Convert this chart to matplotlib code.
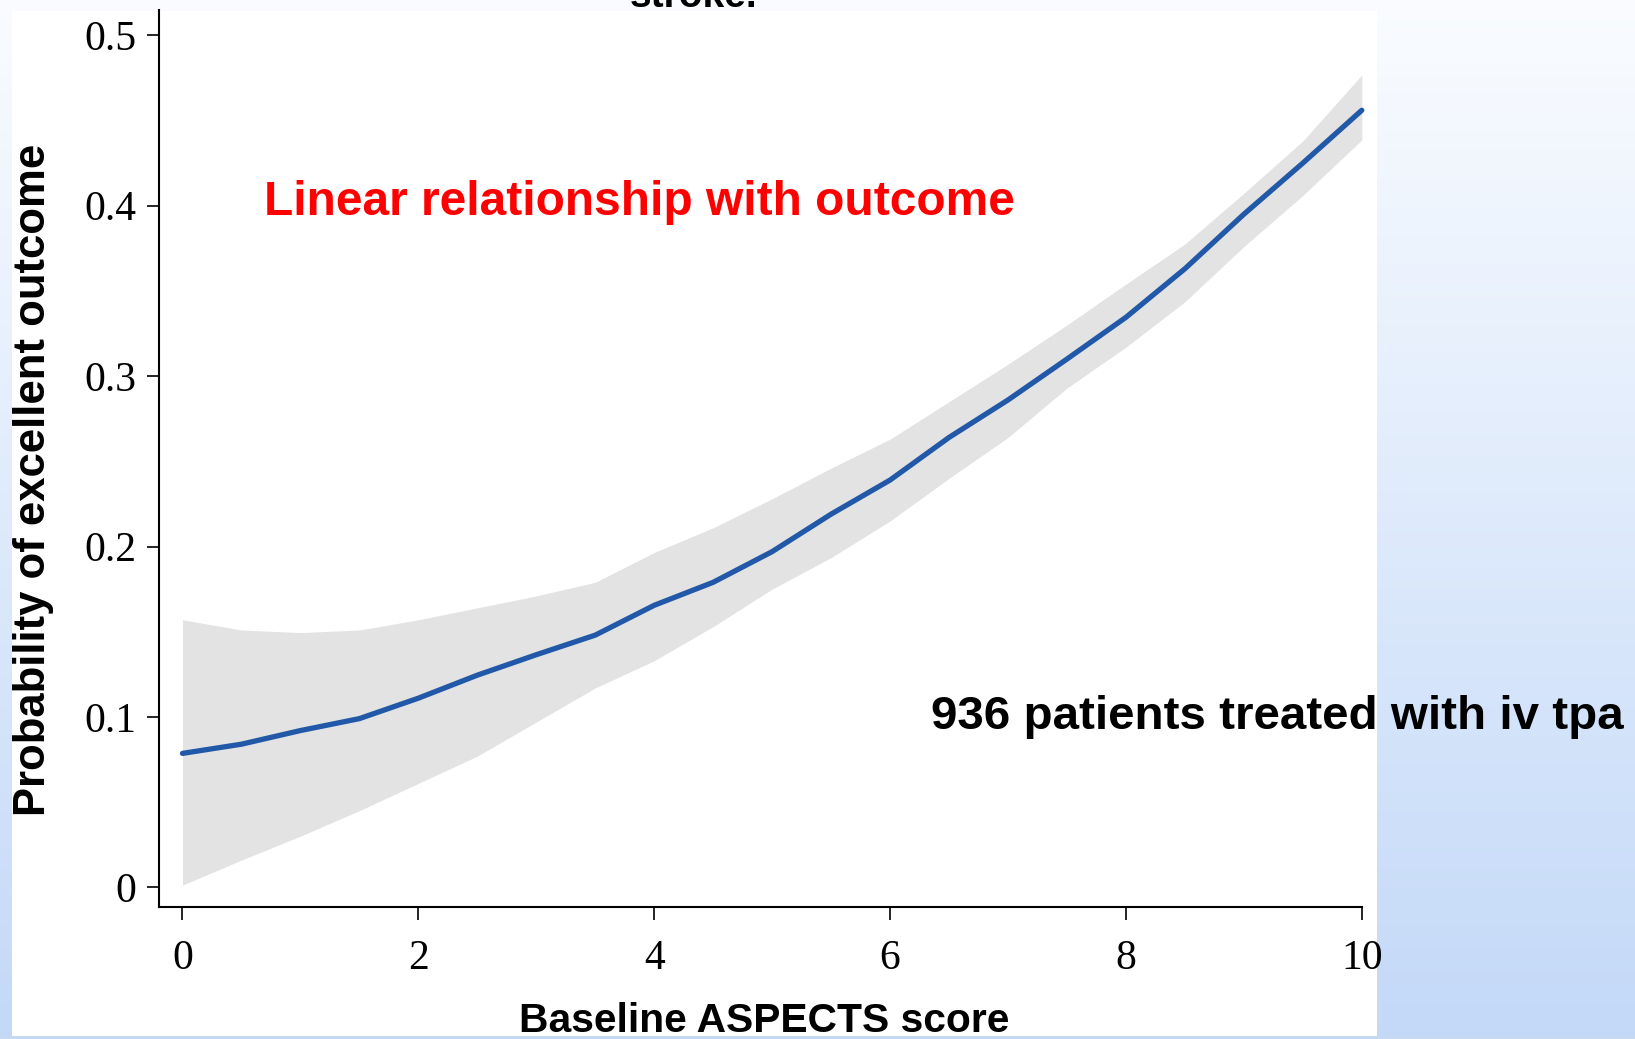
import numpy as np
import matplotlib
matplotlib.use("Agg")
import matplotlib.pyplot as plt
from matplotlib import font_manager
from matplotlib.patches import Rectangle

# Baseline ASPECTS score vs. modelled probability of excellent outcome
aspects = [0.0, 0.5, 1.0, 1.5, 2.0, 2.5, 3.0, 3.5, 4.0, 4.5, 5.0,
           5.5, 6.0, 6.5, 7.0, 7.5, 8.0, 8.5, 9.0, 9.5, 10.0]
prob = [0.0786, 0.084, 0.092, 0.099, 0.111, 0.1245, 0.1365, 0.148, 0.1655, 0.179, 0.197,
        0.219, 0.239, 0.264, 0.286, 0.310, 0.3345, 0.363, 0.395, 0.425, 0.456]
ci_upper = [0.157, 0.151, 0.1495, 0.151, 0.157, 0.164, 0.171, 0.179, 0.1965, 0.211, 0.228,
            0.246, 0.263, 0.285, 0.307, 0.330, 0.354, 0.3775, 0.4073, 0.438, 0.4767]
ci_lower = [0.0013, 0.016, 0.030, 0.045, 0.061, 0.077, 0.097, 0.117, 0.133, 0.153, 0.175,
            0.1935, 0.215, 0.240, 0.264, 0.293, 0.317, 0.3436, 0.376, 0.406, 0.4386]

x_ticks = [0, 2, 4, 6, 8, 10]
y_ticks = [0, 0.1, 0.2, 0.3, 0.4, 0.5]
y_tick_labels = ["0", "0.1", "0.2", "0.3", "0.4", "0.5"]

x_title = "Baseline ASPECTS score"
y_title = "Probability of excellent outcome"
note_red = "Linear relationship with outcome"
note_black = "936 patients treated with iv tpa"
header = "stroke."

W, H = 1635, 1039
fig = plt.figure(figsize=(W / 100, H / 100), dpi=100)

available = {f.name for f in font_manager.fontManager.ttflist}
narrow = "Liberation Sans Narrow" if "Liberation Sans Narrow" in available else "Liberation Sans"
nscale = 1.0 if narrow == "Liberation Sans Narrow" else 0.85

# slide background: soft vertical blue gradient
bg = fig.add_axes([0, 0, 1, 1], zorder=-10)
top_c = np.array([0.980, 0.988, 1.000])
bot_c = np.array([0.765, 0.850, 0.972])
t = np.linspace(0, 1, 256)[:, None]
grad = top_c[None, :] * (1 - t) + bot_c[None, :] * t
bg.imshow(grad[:, None, :], aspect="auto", extent=[0, 1, 0, 1])
bg.set_axis_off()

# header text partly hidden behind the white figure panel
fig.text(693 / W, 1 - 7 / H, header, ha="center", va="baseline",
         fontsize=28, fontweight="bold", family="Liberation Sans", color="black", zorder=-8)

# white panel holding the plot
fig.patches.append(Rectangle((12 / W, 3 / H), (1377 - 12) / W, (1039 - 10.5 - 3) / H,
                             transform=fig.transFigure, facecolor="white",
                             edgecolor="none", zorder=-5))

# thin strip along the bottom edge
fig.patches.append(Rectangle((0, 0), 1, 3 / H, transform=fig.transFigure,
                             facecolor="#c6d8f2", edgecolor="none", zorder=-4))

ax = fig.add_axes([158.5 / W, 131.9 / H, (1361.8 - 158.5) / W, (907.1 - 10.4) / H], zorder=0)
ax.set_facecolor("none")
ax.fill_between(aspects, ci_lower, ci_upper, color="#e3e3e3", linewidth=0, zorder=1)
ax.plot(aspects, prob, color="#2158a8", linewidth=3.8, solid_capstyle="round",
        zorder=2, clip_on=False)

ax.set_xlim(-0.2035, 10)
ax.set_ylim(-0.0116, 0.5146)
ax.spines["top"].set_visible(False)
ax.spines["right"].set_visible(False)
for s in ("left", "bottom"):
    ax.spines[s].set_linewidth(1.5)
    ax.spines[s].set_color("black")

ax.set_xticks(x_ticks)
ax.set_xticklabels([str(v) for v in x_ticks])
ax.set_yticks(y_ticks)
ax.set_yticklabels(y_tick_labels)
ax.tick_params(axis="both", direction="out", length=9, width=1.2, color="black")
ax.tick_params(axis="x", pad=14)
ax.tick_params(axis="y", pad=7)
for lab in ax.get_xticklabels() + ax.get_yticklabels():
    lab.set_family("Liberation Serif")
    lab.set_fontsize(30)
    lab.set_color("black")

# axis titles
fig.text(34 / W, 1 - 480 / H, y_title, rotation=90, ha="center", va="center",
         fontsize=37 * nscale, fontweight="bold", family=narrow, color="black", zorder=3)
fig.text(764 / W, 1 - 1032 / H, x_title, ha="center", va="baseline",
         fontsize=34.5 * nscale, fontweight="bold", family=narrow, color="black", zorder=3)

# annotations
fig.text(264 / W, 1 - 215 / H, note_red, ha="left", va="baseline",
         fontsize=34.5, fontweight="bold", family="Liberation Sans", color="#ff0000", zorder=4)
fig.text(931 / W, 1 - 729 / H, note_black, ha="left", va="baseline",
         fontsize=34.2, fontweight="bold", family="Liberation Sans", color="black", zorder=4)

fig.savefig("out.png", dpi=100)
